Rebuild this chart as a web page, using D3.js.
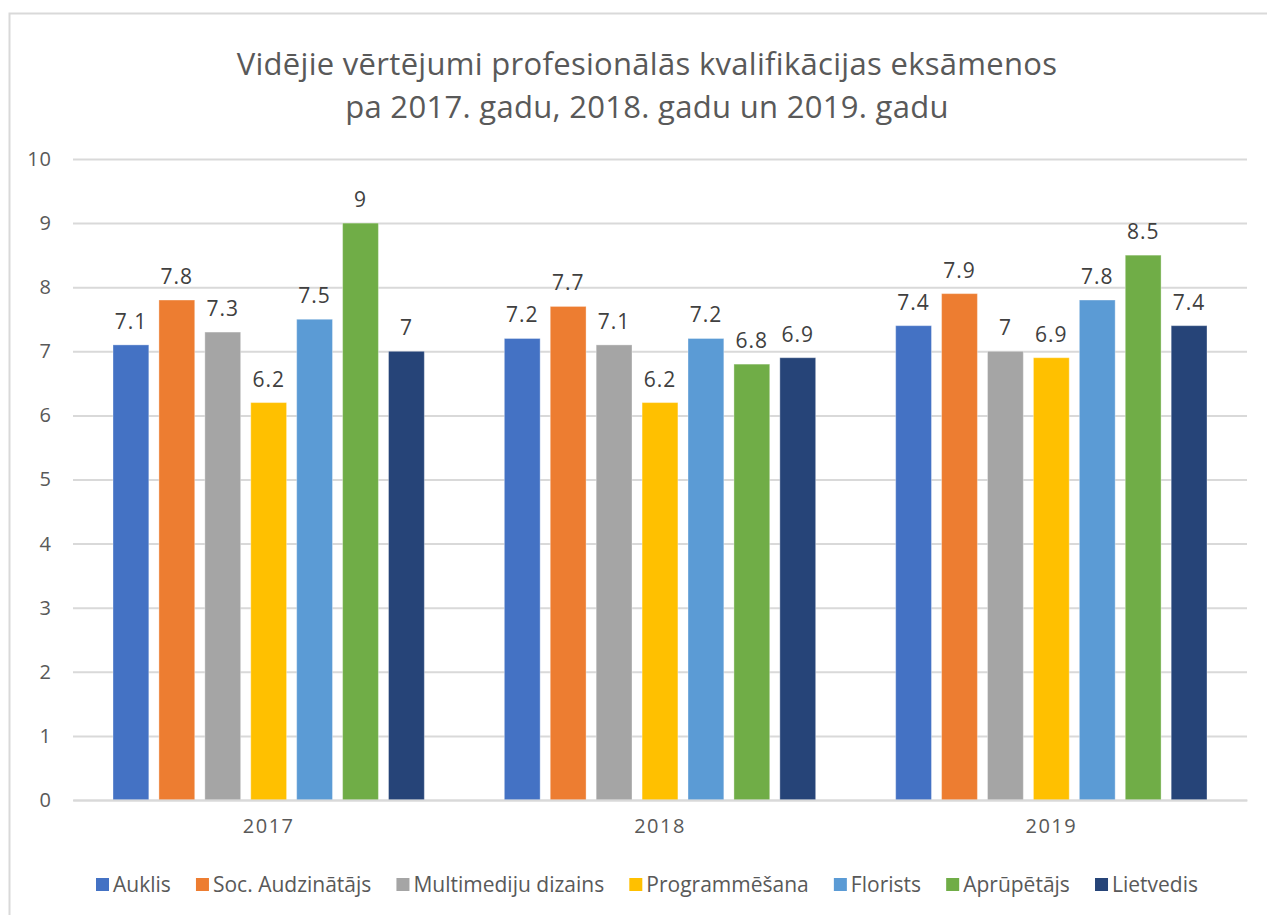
<!DOCTYPE html>
<html>
<head>
<meta charset="utf-8">
<script src="https://cdn.jsdelivr.net/npm/d3@7"></script>
<style>
body{margin:0;background:#fff}
svg{display:block}
</style>
</head>
<body>
<div id="chart"></div>
<script>
'use strict'
const years=["2017","2018","2019"]
const seriesNames=["Auklis","Soc. Audzinātājs","Multimediju dizains","Programmēšana","Florists","Aprūpētājs","Lietvedis"]
const seriesColors=["#4472C4","#ED7D31","#A5A5A5","#FFC000","#5B9BD5","#70AD47","#264478"]
const auklis=[7.1,7.2,7.4]
const socAudz=[7.8,7.7,7.9]
const multimedia=[7.3,7.1,7]
const programming=[6.2,6.2,6.9]
const florists=[7.5,7.2,7.8]
const caregiver=[9,6.8,8.5]
const clerk=[7,6.9,7.4]
const yTicks=[0,1,2,3,4,5,6,7,8,9,10]
const titleLines=["Vidējie vērtējumi profesionālās kvalifikācijas eksāmenos","pa 2017. gadu, 2018. gadu un 2019. gadu"]

const seriesValues=[auklis,socAudz,multimedia,programming,florists,caregiver,clerk]
const width=1267,height=915
const plot={left:73,right:1247,top:159,bottom:800}
const font="'Open Sans','DejaVu Sans',sans-serif"

let svg=d3.select("#chart").append("svg").attr("width",width).attr("height",height)
// chart frame (only top and left edges show in the picture)
svg.append("path").attr("d","M9.5,"+height+"V13.5H"+width).attr("fill","none").attr("stroke","#d9d9d9").attr("stroke-width",2)

svg.selectAll(".title").data(titleLines).enter().append("text")
  .attr("x",647).attr("y",(d,i)=>75+i*43)
  .attr("text-anchor","middle").style("font-family",font)
  .style("font-size","31px").style("letter-spacing","0.3px").attr("fill","#595959").text(d=>d)

let x0=d3.scaleBand().domain(years).range([plot.left,plot.right])
let x1=d3.scaleBand().domain(d3.range(seriesNames.length)).range([40,x0.bandwidth()-40]).paddingInner(0.22)
let y=d3.scaleLinear().domain([0,10]).range([plot.bottom,plot.top])

let yAxis=d3.axisLeft(y).tickValues(yTicks).tickSize(-(plot.right-plot.left)).tickPadding(21)
let gy=svg.append("g").attr("transform","translate("+plot.left+",0)").call(yAxis)
gy.select(".domain").remove()
gy.selectAll(".tick line").attr("stroke","#d9d9d9").attr("stroke-width",2)
gy.selectAll(".tick text").style("font-family",font).style("font-size","20px").style("letter-spacing","1px").attr("fill","#595959")

let groups=svg.selectAll(".grp").data(years).enter().append("g")
  .attr("transform",d=>"translate("+x0(d)+",0)")
groups.selectAll("rect").data((d,yi)=>seriesValues.map((s,si)=>({si:si,v:s[yi]}))).enter().append("rect")
  .attr("x",d=>x1(d.si)).attr("width",x1.bandwidth())
  .attr("y",d=>y(d.v)).attr("height",d=>y(0)-y(d.v))
  .attr("fill",d=>seriesColors[d.si]).attr("stroke","#fff").attr("stroke-opacity",0.35)
groups.selectAll(".lbl").data((d,yi)=>seriesValues.map((s,si)=>({si:si,v:s[yi]}))).enter().append("text")
  .attr("x",d=>x1(d.si)+x1.bandwidth()/2).attr("y",d=>y(d.v)-16)
  .attr("text-anchor","middle").style("font-family",font)
  .style("font-size","21px").style("letter-spacing","1px").attr("fill","#404040").text(d=>d.v)

let xAxis=d3.axisBottom(x0).tickSize(0).tickPadding(19)
let gx=svg.append("g").attr("transform","translate(0,"+plot.bottom+")").call(xAxis)
gx.select(".domain").attr("stroke","#d9d9d9").attr("stroke-width",2)
gx.selectAll(".tick text").style("font-family",font).style("font-size","20px").style("letter-spacing","1.5px").attr("fill","#595959")

// legend
let legend=svg.append("g").attr("transform","translate(0,892)")
let items=legend.selectAll("g").data(seriesNames).enter().append("g")
items.append("rect").attr("width",13).attr("height",13).attr("y",-14).attr("fill",(d,i)=>seriesColors[i])
items.append("text").attr("x",17).style("font-family",font)
  .style("font-size","21px").attr("fill","#595959").text(d=>d)
let widths=[]
items.each(function(){widths.push(this.getBBox().width)})
let gap=(1198-96-d3.sum(widths))/(widths.length-1)
let xpos=96
items.each(function(d,i){d3.select(this).attr("transform","translate("+xpos+",0)")
  xpos+=widths[i]+gap})
</script>
</body>
</html>
